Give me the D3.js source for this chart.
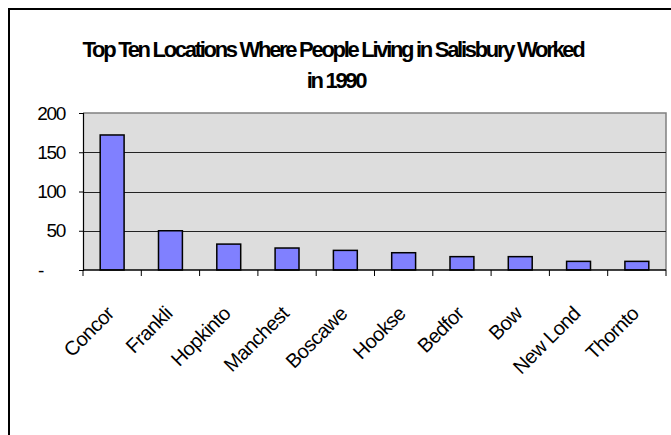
<!DOCTYPE html>
<html>
<head>
<meta charset="utf-8">
<script src="https://cdn.jsdelivr.net/npm/d3@7"></script>
<style>
  body { margin: 0; background: #fff; }
  text { font-family: Arial, "Liberation Sans", sans-serif; }
</style>
</head>
<body>
<div id="chart"></div>
<script>
const categories = ['Concord', 'Franklin', 'Hopkinton', 'Manchester', 'Boscawen',
  'Hooksett', 'Bedford', 'Bow', 'New London', 'Thornton'];
// labels as they show under the axis (cut off by the chart)
const tickLabels = ['Concor', 'Frankli', 'Hopkinto', 'Manchest', 'Boscawe',
  'Hookse', 'Bedfor', 'Bow', 'New Lond', 'Thornto'];
const workers = [172, 50, 33, 28, 25, 22, 17, 17, 11, 11];
const yTicks = [0, 50, 100, 150, 200];
const titleLines = ['Top Ten Locations Where People Living in Salisbury Worked', 'in 1990'];

const width = 671;
const height = 435;
const plot = { left: 83, top: 113, right: 666, bottom: 270 };

const svg = d3.select('#chart').append('svg')
  .attr('width', width)
  .attr('height', height);

// chart frame, runs off the right and bottom edge
svg.append('rect')
  .attr('x', 9)
  .attr('y', 9)
  .attr('width', 700)
  .attr('height', 500)
  .attr('fill', 'none')
  .attr('stroke', '#000')
  .attr('stroke-width', 2);

const title = svg.append('text')
  .attr('text-anchor', 'middle')
  .style('font-weight', 'bold')
  .style('font-size', '22px')
  .style('letter-spacing', '-2.3px');
title.append('tspan').attr('x', 333).attr('y', 57).text(titleLines[0]);
title.append('tspan').attr('x', 336).attr('y', 88).text(titleLines[1]);

const x = d3.scaleBand()
  .domain(categories)
  .range([plot.left, plot.right])
  .paddingInner(0.59)
  .paddingOuter(0.295);

const y = d3.scaleLinear()
  .domain([0, 200])
  .range([plot.bottom, plot.top]);

svg.append('rect')
  .attr('x', plot.left)
  .attr('y', plot.top)
  .attr('width', plot.right - plot.left)
  .attr('height', plot.bottom - plot.top)
  .attr('fill', '#dddddd');

svg.append('path')
  .attr('d', `M${plot.left},${plot.top}H${plot.right}V${plot.bottom}`)
  .attr('fill', 'none')
  .attr('stroke', '#808080')
  .attr('stroke-width', 1.5);

svg.append('g')
  .selectAll('line')
  .data(yTicks.filter(d => d > 0 && d < 200))
  .enter()
  .append('line')
  .attr('x1', plot.left)
  .attr('x2', plot.right)
  .attr('y1', d => Math.round(y(d)) + 0.5)
  .attr('y2', d => Math.round(y(d)) + 0.5)
  .attr('stroke', '#222');

svg.append('g')
  .selectAll('rect')
  .data(workers)
  .enter()
  .append('rect')
  .attr('x', (d, i) => x(categories[i]))
  .attr('y', d => y(d))
  .attr('width', x.bandwidth())
  .attr('height', d => y(0) - y(d))
  .attr('fill', '#8080ff')
  .attr('stroke', '#000')
  .attr('stroke-width', 1.5);

const yAxis = svg.append('g')
  .attr('transform', `translate(${plot.left},0)`)
  .call(d3.axisLeft(y)
    .tickValues(yTicks)
    .tickSize(4)
    .tickPadding(14)
    .tickFormat(d => d === 0 ? '-' : d));
yAxis.select('.domain').attr('stroke', '#000').attr('stroke-width', 1.2);
yAxis.selectAll('.tick line').attr('stroke', '#000');
yAxis.selectAll('.tick text')
  .attr('fill', '#000')
  .style('font-size', '19px')
  .style('letter-spacing', '-1.3px')
  .attr('dx', d => d === 0 ? -22 : 0);

// bottom axis: ticks sit between the categories
const xAxis = svg.append('g');
xAxis.append('line')
  .attr('x1', plot.left)
  .attr('x2', plot.right)
  .attr('y1', plot.bottom)
  .attr('y2', plot.bottom)
  .attr('stroke', '#000')
  .attr('stroke-width', 1.5);
xAxis.selectAll('.edge')
  .data(d3.range(categories.length + 1))
  .enter()
  .append('line')
  .attr('class', 'edge')
  .attr('x1', i => plot.left + i * x.step())
  .attr('x2', i => plot.left + i * x.step())
  .attr('y1', plot.bottom)
  .attr('y2', plot.bottom + 6)
  .attr('stroke', '#000');

xAxis.selectAll('.label')
  .data(categories)
  .enter()
  .append('text')
  .attr('class', 'label')
  .attr('text-anchor', 'end')
  .attr('transform', d => `translate(${x(d) + x.bandwidth() / 2 + 3},${315}) rotate(-45)`)
  .style('font-size', '20px')
  .style('letter-spacing', '-0.6px')
  .text((d, i) => tickLabels[i]);
</script>
</body>
</html>
